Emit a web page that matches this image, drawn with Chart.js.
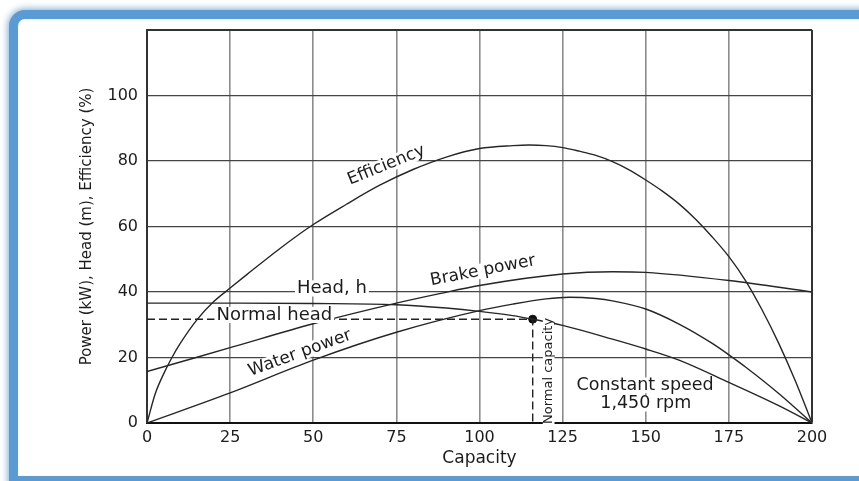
<!DOCTYPE html>
<html>
<head>
<meta charset="utf-8">
<script src="https://cdn.jsdelivr.net/npm/chart.js@4.4.0/dist/chart.umd.min.js"></script>
<style>
  html, body { margin: 0; padding: 0; background: #fff; overflow: hidden; }
  #frame {
    position: absolute; left: 9px; top: 10px; width: 900px; height: 457px;
    border: 9px solid #5b9bd5; border-radius: 16px 0 0 0;
    box-shadow: 0 0 7px 1px rgba(91, 155, 213, 0.85); background: #fff;
  }
  #myChart { position: absolute; left: 0; top: 0; }
</style>
</head>
<body>
<div id="frame"></div>
<canvas id="myChart" width="859" height="481"></canvas>
<script>
// pump characteristic curves
const effCapacity = [0, 2.5, 5, 7.5, 10, 15, 20, 25, 30, 40, 50, 60, 70, 80, 90, 100, 110, 115, 120, 125, 130, 135, 140, 145, 150, 155, 160, 165, 170, 175, 180, 185, 190, 195, 200];
const efficiency = [0, 9, 15, 20, 24.3, 31.5, 37, 41.2, 45.3, 53.3, 60.6, 66.8, 72.6, 77.4, 81.2, 83.8, 84.7, 84.9, 84.7, 84.1, 83, 81.7, 79.8, 77.3, 74.2, 70.8, 66.9, 62.2, 56.8, 50.8, 43.5, 34.5, 24.3, 12.8, 0];

const brakeCapacity = [0, 25, 50, 75, 88, 100, 125, 140, 150, 175, 200];
const brakePower = [15.7, 23, 30.3, 36.6, 39.5, 42, 45.5, 46.2, 46, 43.5, 40];

const headCapacity = [0, 25, 50, 75, 90, 100, 110, 116, 125, 140, 150, 160, 175, 190, 200];
const head = [36.6, 36.6, 36.5, 36.1, 35.1, 34.1, 32.8, 31.7, 29.8, 25.6, 22.6, 19.2, 12.4, 5.3, 0];

const waterCapacity = [0, 25, 50, 75, 100, 110, 120, 127, 135, 140, 150, 160, 170, 175, 180, 190, 200];
const waterPower = [0, 9.2, 19.2, 27.7, 34.3, 36.3, 37.9, 38.4, 38, 37.3, 34.8, 30.2, 24.3, 20.8, 17.1, 9, 0];

const normalCapacity = [0, 116, 116];
const normalHead = [31.7, 31.7, 0];
const normalPoint = [116, 31.7];

const xTicks = [0, 25, 50, 75, 100, 125, 150, 175, 200];
const yTicks = [0, 20, 40, 60, 80, 100, 120];

const labels = [
  { text: "Efficiency", x: 72, y: 78.7, angle: -22, size: 17 },
  { text: "Brake power", x: 101, y: 46.5, angle: -11, size: 17 },
  { text: "Water power", x: 46, y: 21.3, angle: -20, size: 17 },
  { text: "Head, h", x: 55.6, y: 41.1, angle: 0, size: 18 },
  { text: "Normal head", x: 38.3, y: 33, angle: 0, size: 18 },
  { text: "Normal capacity", x: 120.8, y: 15.9, angle: -90, size: 13 },
  { text: "Constant speed", x: 149.8, y: 11.5, angle: 0, size: 17.5 },
  { text: "1,450 rpm", x: 150, y: 5.9, angle: 0, size: 17.5 },
];

const toPoints = (xs, ys) => xs.map((v, i) => ({ x: v, y: ys[i] }));

const curve = {
  borderColor: "#262626",
  borderWidth: 1.4,
  pointRadius: 0,
  cubicInterpolationMode: "monotone",
  fill: false,
};

const labelPlugin = {
  id: "curveLabels",
  afterDatasetsDraw(chart) {
    const { ctx, scales: { x, y } } = chart;
    labels.forEach((a) => {
      ctx.save();
      ctx.translate(x.getPixelForValue(a.x), y.getPixelForValue(a.y));
      ctx.rotate((a.angle * Math.PI) / 180);
      ctx.font = `${a.size}px 'DejaVu Sans'`;
      ctx.textAlign = "center";
      ctx.textBaseline = "middle";
      const w = ctx.measureText(a.text).width;
      ctx.fillStyle = "#fff";
      ctx.fillRect(-w / 2 - 2, -a.size * 0.45, w + 4, a.size * 0.9);
      ctx.fillStyle = "#1c1c1c";
      ctx.fillText(a.text, 0, 0);
      ctx.restore();
    });
  },
};

const ctx = document.getElementById("myChart").getContext("2d");
new Chart(ctx, {
  type: "line",
  data: {
    datasets: [
      { label: "Efficiency", data: toPoints(effCapacity, efficiency), ...curve },
      { label: "Brake power", data: toPoints(brakeCapacity, brakePower), ...curve },
      { label: "Head", data: toPoints(headCapacity, head), ...curve },
      { label: "Water power", data: toPoints(waterCapacity, waterPower), ...curve },
      {
        label: "Normal head",
        data: toPoints(normalCapacity, normalHead),
        borderColor: "#222",
        borderWidth: 1.4,
        borderDash: [8, 4],
        pointRadius: 0,
        tension: 0,
      },
      {
        label: "Normal point",
        data: [{ x: normalPoint[0], y: normalPoint[1] }],
        showLine: false,
        pointRadius: 4,
        pointBackgroundColor: "#111",
        pointBorderColor: "#111",
      },
    ],
  },
  options: {
    responsive: false,
    animation: false,
    layout: { padding: { top: 30, right: 47, left: 0, bottom: 0 } },
    plugins: {
      legend: { display: false },
      tooltip: { enabled: false },
    },
    scales: {
      x: {
        type: "linear",
        min: 0,
        max: 200,
        afterBuildTicks: (s) => { s.ticks = xTicks.map((v) => ({ value: v })); },
        afterFit: (s) => { s.height = 58; },
        ticks: {
          padding: 5,
          color: "#1c1c1c",
          font: { family: "DejaVu Sans", size: 16 },
        },
        grid: {
          drawTicks: false,
          color: (c) => (c.tick && c.tick.value === 200 ? "#333" : "#8c8c8c"),
          lineWidth: (c) => (c.tick && c.tick.value === 200 ? 2 : 1.6),
        },
        border: { color: "#111", width: 2 },
        title: {
          display: true,
          text: "Capacity",
          color: "#1c1c1c",
          font: { family: "DejaVu Sans", size: 17 },
          padding: { top: 0, bottom: 12 },
        },
      },
      y: {
        min: 0,
        max: 120,
        afterBuildTicks: (s) => { s.ticks = yTicks.map((v) => ({ value: v })); },
        afterFit: (s) => { s.width = 147; },
        ticks: {
          padding: 9,
          color: "#1c1c1c",
          font: { family: "DejaVu Sans", size: 16 },
          callback: (v) => (v === 120 ? "" : v),
        },
        grid: {
          drawTicks: false,
          color: (c) => (c.tick && c.tick.value === 120 ? "#333" : "#454545"),
          lineWidth: (c) => (c.tick && c.tick.value === 120 ? 2 : 1.3),
        },
        border: { color: "#333", width: 2 },
        title: {
          display: true,
          text: "Power (kW), Head (m), Efficiency (%)",
          color: "#1c1c1c",
          font: { family: "DejaVu Sans", size: 15 },
          padding: { top: 78, bottom: 0 },
        },
      },
    },
  },
  plugins: [labelPlugin],
});
</script>
</body>
</html>
